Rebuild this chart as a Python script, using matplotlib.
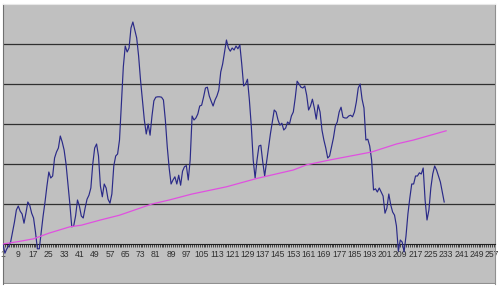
import matplotlib.pyplot as plt
import numpy as np

# main series, one value per category (1..232)
serie = [
    0.0, -0.23, -0.12, -0.05, 0.05, 0.3, 0.55, 0.85, 0.95, 0.82,
    0.75, 0.52, 0.77, 1.05, 0.97, 0.77, 0.65, 0.3, -0.12, -0.12,
    0.3, 0.7, 1.05, 1.45, 1.8, 1.65, 1.7, 2.15, 2.3, 2.4,
    2.7, 2.55, 2.35, 2.0, 1.5, 1.0, 0.43, 0.45, 0.7, 1.1,
    0.95, 0.7, 0.65, 0.9, 1.12, 1.22, 1.4, 2.0, 2.4, 2.5,
    2.2, 1.45, 1.18, 1.5, 1.4, 1.12, 1.02, 1.25, 1.95, 2.2,
    2.25, 2.6, 3.5, 4.43, 4.95, 4.8, 4.9, 5.4, 5.55, 5.35,
    5.15, 4.7, 4.1, 3.6, 3.1, 2.75, 3.0, 2.72, 3.2, 3.58,
    3.67, 3.68, 3.68, 3.67, 3.6, 3.1, 2.43, 1.9, 1.5, 1.6,
    1.68, 1.5, 1.72, 1.47, 1.82, 1.93, 1.96, 1.6, 2.1, 3.2,
    3.1, 3.15, 3.25, 3.45, 3.47, 3.67, 3.9, 3.92, 3.7, 3.57,
    3.45, 3.6, 3.7, 3.85, 4.3, 4.5, 4.8, 5.1, 4.9, 4.82,
    4.9, 4.85, 4.95, 4.88, 4.98, 4.5, 3.95, 4.0, 4.12, 3.6,
    2.95, 2.1, 1.65, 2.1, 2.45, 2.47, 2.05, 1.7, 2.05, 2.38,
    2.75, 3.05, 3.35, 3.3, 3.1, 2.97, 3.02, 2.85, 2.9, 3.05,
    3.0, 3.2, 3.3, 3.65, 4.07, 4.0, 3.92, 3.9, 3.95, 3.72,
    3.35, 3.45, 3.62, 3.4, 3.12, 3.48, 3.3, 2.85, 2.6, 2.4,
    2.15, 2.2, 2.42, 2.65, 2.95, 3.05, 3.3, 3.42, 3.17, 3.15,
    3.15, 3.2, 3.22, 3.18, 3.3, 3.55, 3.9, 4.0, 3.62, 3.4,
    2.6, 2.62, 2.45, 2.1, 1.35, 1.38, 1.3, 1.4, 1.3, 1.2,
    0.77, 0.9, 1.25, 0.98, 0.8, 0.72, 0.45, -0.18, 0.1, 0.05,
    -0.2, 0.2, 0.75, 1.15, 1.5, 1.5, 1.7, 1.7, 1.78, 1.75,
    1.9, 1.1, 0.6, 0.85, 1.4, 1.75, 1.95, 1.85, 1.7, 1.55,
    1.3, 1.05,
]
categorias = np.arange(1, len(serie) + 1)

# trend line read at a few categories
tend_x = [1, 9, 17, 25, 36, 42, 52, 62, 79, 88, 100, 118, 134, 153, 160, 172, 194, 207, 216, 233]
tend_y = [0.0, 0.06, 0.13, 0.27, 0.43, 0.47, 0.6, 0.72, 1.0, 1.1, 1.25, 1.43, 1.64, 1.85, 1.98, 2.1, 2.3, 2.5, 2.6, 2.83]

etiquetas = list(range(1, 258, 8))

fig = plt.figure(figsize=(5, 2.88), dpi=100)
ax = fig.add_axes([3 / 500, 1 - 284 / 288, 492 / 500, 280 / 288])
ax.set_facecolor('#C0C0C0')
ax.set_xlim(1, 258.6)
ax.set_ylim(-1, 6)

for v in [1, 2, 3, 4, 5]:
    ax.axhline(v, color='#303030', lw=0.9, zorder=1)

ax.plot(categorias, serie, color='#2A2A88', lw=0.85, zorder=3)
ax.plot(tend_x, tend_y, color='#E050E0', lw=0.9, zorder=3)

ax.spines['bottom'].set_position(('data', 0))
ax.spines['bottom'].set_color('#202020')
ax.spines['left'].set_color('#707070')
ax.spines['right'].set_color('#909090')
ax.spines['top'].set_color('#E8E8E8')
ax.axhline(-1, color='#909090', lw=1.5, zorder=2)

ax.set_yticks([])
ax.set_xticks(range(1, 259))
ax.set_xticklabels([str(c) if c in etiquetas else '' for c in range(1, 259)],
                   fontsize=6.2, color='#303030', family='Liberation Sans')
ax.tick_params(axis='x', length=2.5, width=0.6, pad=2, color='#303030')

fig.savefig('out.png', dpi=100)
